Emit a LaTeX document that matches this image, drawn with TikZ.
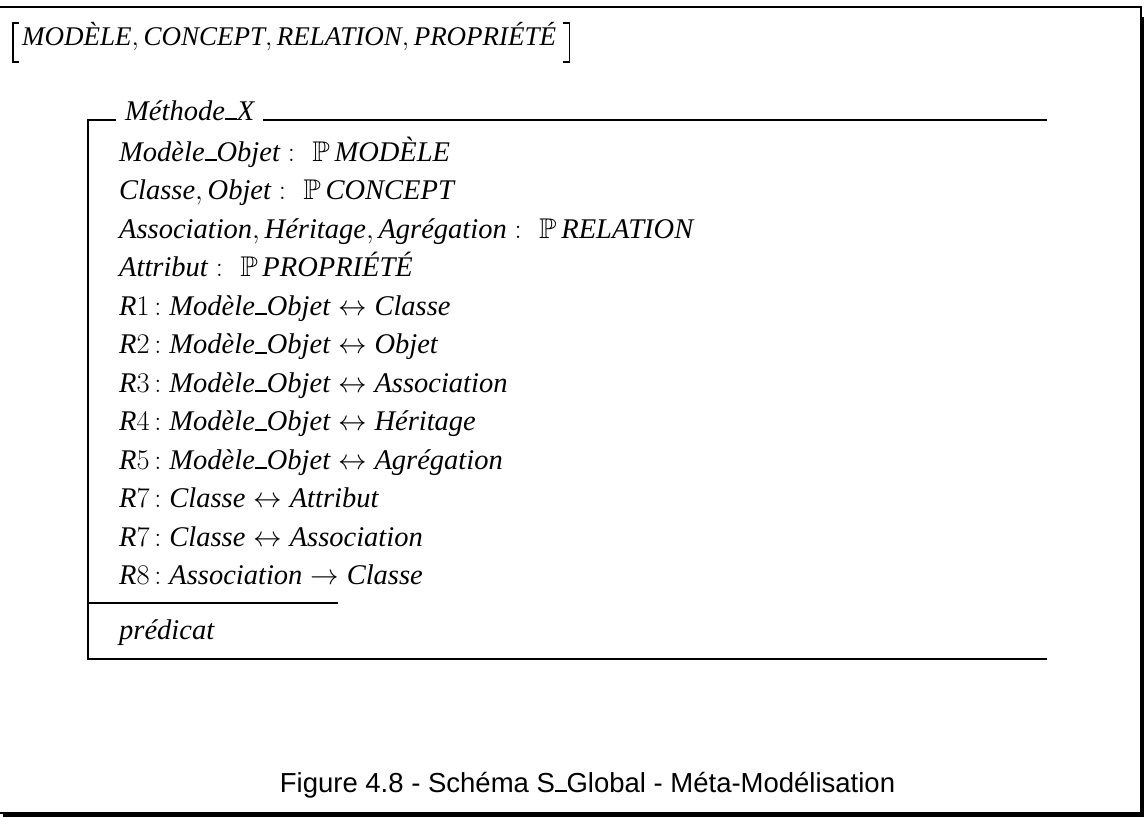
\documentclass[tikz,border=0pt]{standalone}
\usepackage{fix-cm}
\usepackage{amssymb}
\usepackage{fontspec}
\usetikzlibrary{calc}
\setmainfont{Liberation Serif}
\newfontfamily\capfont{Liberation Sans}
\DeclareFontFamily{U}{msb}{}
\DeclareFontShape{U}{msb}{m}{n}{<-> msbm10}{}
\newcommand{\zus}{\rule{0.42em}{0.06em}}
\newcommand{\zP}{$\mathbb{P}$\,}
\newcommand{\zc}{\;$:$\;\,\,}
\newcommand{\zr}{\,$:$\;}
\newcommand{\zcm}{$,$\,}
\tikzset{
  zline/.style={line width=2pt},
  brk/.style={line width=1.1pt},
  ztext/.style={anchor=base west, inner sep=0pt, font=\fontsize{28.5}{34}\selectfont\itshape},
  htext/.style={anchor=base west, inner sep=0pt, font=\fontsize{27}{32}\selectfont\itshape},
  capt/.style={anchor=base, inner sep=0pt, font=\capfont\fontsize{27.5}{33}\selectfont}
}
\begin{document}
\begin{tikzpicture}[x=1pt,y=-1pt]
\useasboundingbox (0,0) rectangle (1144,817);
% outer shadow frame
\draw[zline] (-5,7) -- (1141,7) -- (1141,813) -- (-5,813);
\fill (1140,17) rectangle (1144,817);
\fill (3,812) rectangle (1144,817);
% header
\node[htext] (hdr) at (22,45) {MODÈLE\zcm CONCEPT\zcm RELATION\zcm PROPRIÉTÉ};
\draw[brk] ($(hdr.base west)+(-3,-22)$) -- ++(-6,0) -- ++(0,39) -- ++(6,0);
\draw[brk] ($(hdr.base east)+(7,-22)$) -- ++(6,0) -- ++(0,39) -- ++(-6,0);
% schema box
\node[ztext] (name) at (125,120) {Méthode\zus X};
\draw[zline] (116,120) -- (88,120) -- (88,659) -- (1047,659);
\draw[zline] (263,120) -- (1047,120);
\draw[zline] (88,603) -- (338,603);
\node[ztext] (d1) at (119,161) {Modèle\zus Objet\zc\zP MODÈLE};
\node[ztext] (d2) at (119,199.5) {Classe\zcm Objet\zc\zP CONCEPT};
\node[ztext] (d3) at (119,238) {Association\zcm Héritage\zcm Agrégation\zc\zP RELATION};
\node[ztext] (d4) at (119,276.5) {Attribut\zc\zP PROPRIÉTÉ};
\node[ztext] (r1) at (119,315) {R$1$\zr Modèle\zus Objet\;$\leftrightarrow$\;Classe};
\node[ztext] (r2) at (119,353.5) {R$2$\zr Modèle\zus Objet\;$\leftrightarrow$\;Objet};
\node[ztext] (r3) at (119,392) {R$3$\zr Modèle\zus Objet\;$\leftrightarrow$\;Association};
\node[ztext] (r4) at (119,430.5) {R$4$\zr Modèle\zus Objet\;$\leftrightarrow$\;Héritage};
\node[ztext] (r5) at (119,469) {R$5$\zr Modèle\zus Objet\;$\leftrightarrow$\;Agrégation};
\node[ztext] (r6) at (119,507.5) {R$7$\zr Classe\;$\leftrightarrow$\;Attribut};
\node[ztext] (r7) at (119,546) {R$7$\zr Classe\;$\leftrightarrow$\;Association};
\node[ztext] (r8) at (119,584.5) {R$8$\zr Association\;$\rightarrow$\;Classe};
\node[ztext] (pred) at (119,639) {prédicat};
% caption
\node[capt] (cap) at (587.5,792) {Figure 4.8 - Schéma S\zus Global - Méta-Modélisation};
\end{tikzpicture}
\end{document}
